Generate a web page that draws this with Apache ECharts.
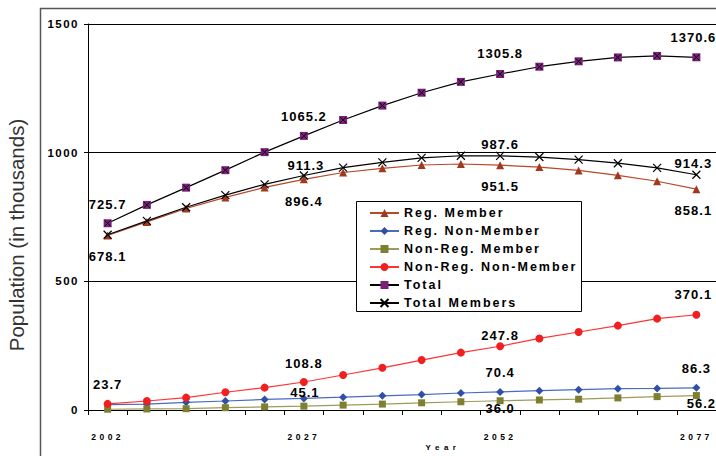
<!DOCTYPE html>
<html><head><meta charset="utf-8">
<script src="https://cdn.jsdelivr.net/npm/echarts@6/dist/echarts.min.js"></script>
<style>html,body{margin:0;padding:0;background:#fff}#c{width:716px;height:456px}</style>
</head><body><div id="c"></div>
<script>
const years = ['2002','2007','2012','2017','2022','2027','2032','2037','2042','2047','2052','2057','2062','2067','2072','2077'];
const yTicks = ['0','500','1000','1500'];
const regMember      = [678.1, 731, 783, 826, 865, 896.4, 923, 939, 952, 956, 951.5, 944, 931, 912, 889, 858.1];
const regNonMember   = [20.9, 23, 30, 35, 41, 45.1, 50, 55, 60, 66, 70.4, 75, 79, 83, 84, 86.3];
const nonRegMember   = [3.0, 4, 5, 9, 12, 14.9, 19, 23, 28, 32, 36.0, 39, 42, 47, 52, 56.2];
const nonRegNonMember= [23.7, 35, 48, 69, 87, 108.8, 136, 164, 194, 223, 247.8, 278, 303, 328, 355, 370.1];
const total          = [725.7, 797, 864, 932, 1002, 1065.2, 1127, 1183, 1233, 1275, 1305.8, 1334, 1355, 1370, 1376, 1370.6];
const totalMembers   = [681.1, 735, 788, 835, 877, 911.3, 942, 962, 980, 988, 987.6, 983, 973, 959, 941, 914.3];
const names = ['Reg. Member','Reg. Non-Member','Non-Reg. Member','Non-Reg. Non-Member','Total','Total Members'];

const FONT = '"Liberation Sans", Arial, sans-serif';
const XPATH = 'path://M0,0L10,10M10,0L0,10';

function withLabels(values, notes) {
  return values.map((v, i) => notes[i] ? { value: v, label: { show: true, offset: notes[i] } } : v);
}
const labelBase = {
  show: false, position: 'inside', color: '#000', fontFamily: FONT, fontWeight: 'bold',
  fontSize: 13, textBorderWidth: 0, formatter: p => Number(p.value).toFixed(1)
};
function lineSeries(name, data, notes, symbol, size, mColor, lColor, extra) {
  return Object.assign({
    name, type: 'line', data: withLabels(data, notes), symbol, symbolSize: size,
    showAllSymbol: true, smooth: false,
    itemStyle: { color: mColor },
    lineStyle: { color: lColor, width: 1.2 },
    label: labelBase, emphasis: { disabled: true }
  }, extra || {});
}

const chart = echarts.init(document.getElementById('c'), null, { renderer: 'svg' });
chart.setOption({
  animation: false,
  grid: { left: 88, top: 24, right: 0, bottom: 46, containLabel: false },
  xAxis: {
    type: 'category', data: years, boundaryGap: true,
    axisLine: { lineStyle: { color: '#000', width: 1 } },
    axisTick: { show: true, interval: 0, length: 5, lineStyle: { color: '#000' } },
    axisLabel: { interval: 4, margin: 22, color: '#000', fontFamily: FONT, fontWeight: 'bold', fontSize: 8.5 },
    splitLine: { show: false }
  },
  yAxis: {
    type: 'value', min: 0, max: 1500, interval: 500,
    axisLine: { show: true, lineStyle: { color: '#000', width: 1 } },
    axisTick: { show: true, length: 4, lineStyle: { color: '#000' } },
    axisLabel: { margin: 9, color: '#000', fontFamily: FONT, fontWeight: 'bold', fontSize: 11.5, formatter: v => String(v) },
    splitLine: { show: true, lineStyle: { color: '#000', width: 1 } }
  },
  legend: {
    data: names, orient: 'vertical', left: 369, top: 206, padding: 0,
    itemWidth: 29, itemHeight: 10, itemGap: 4, z: 12,
    textStyle: { color: '#000', fontFamily: FONT, fontWeight: 'bold', fontSize: 12.5, lineHeight: 14 }
  },
  graphic: [
    { type: 'polyline', shape: { points: [[40.5, 456], [40.5, 8.5], [716, 8.5]] }, style: { stroke: '#555', lineWidth: 1.5, fill: null }, z: 1 },
    { type: 'rect', shape: { x: 356.5, y: 201.5, width: 225, height: 110 }, style: { fill: '#fff', stroke: '#000', lineWidth: 1 }, z: 10 },
    { type: 'text', x: 16, y: 235, rotation: Math.PI / 2, style: { text: 'Population (in thousands)', fill: '#333', fontSize: 20.5, fontFamily: FONT, align: 'center', verticalAlign: 'middle', textAlign: 'center', textVerticalAlign: 'middle' } },
    { type: 'text', x: 443, y: 447, style: { text: 'Year', fill: '#000', fontSize: 8, fontWeight: 'bold', fontFamily: FONT, align: 'center', verticalAlign: 'middle', textAlign: 'center', textVerticalAlign: 'middle' } }
  ],
  series: [
    lineSeries(names[0], regMember, { 0: [0, 21], 5: [0, 22], 10: [0, 21], 15: [-3, 21] }, 'triangle', 8, '#A0391E', '#B9472A'),
    lineSeries(names[1], regNonMember, { 5: [1, -6], 10: [0, -19], 15: [0, -19] }, 'diamond', 8, '#3050A8', '#4A6BC0'),
    lineSeries(names[2], nonRegMember, { 10: [0, 8], 15: [5, 8] }, 'rect', 7, '#7F7F32', '#9C9C5A'),
    lineSeries(names[3], nonRegNonMember, { 0: [0, -19], 5: [0, -19], 10: [0, -11], 15: [-3, -20] }, 'circle', 8, '#F02020', '#FF3333'),
    lineSeries(names[4], total, { 0: [0, -19], 5: [0, -19], 10: [0, -20], 15: [-3, -20] }, 'rect', 8, '#7B1F7B', '#000'),
    {
      name: 'TotalX', type: 'line', data: total, symbol: XPATH, symbolSize: 6, showAllSymbol: true,
      itemStyle: { color: '#000', borderColor: '#000', borderWidth: 1 }, lineStyle: { width: 0, opacity: 0 },
      emphasis: { disabled: true }, z: 3
    },
    lineSeries(names[5], totalMembers, { 5: [2, -10], 10: [0, -11], 15: [-3, -11] }, XPATH, 8, '#000', '#000',
      { itemStyle: { color: '#000', borderColor: '#000', borderWidth: 1.2 } })
  ]
});

function applySpacing() {
  document.querySelectorAll('#c text').forEach(t => {
    const s = (t.textContent || '').trim();
    let ls = '1px';
    if (years.includes(s)) ls = '3.5px';
    else if (yTicks.includes(s)) ls = '1.5px';
    else if (s === 'Year') ls = '4.5px';
    else if (s.startsWith('Population')) ls = '0px';
    else if (names.includes(s)) ls = '2px';
    t.style.letterSpacing = ls;
  });
}
applySpacing();
chart.on('finished', applySpacing);
setTimeout(applySpacing, 50);
</script>
</body></html>
